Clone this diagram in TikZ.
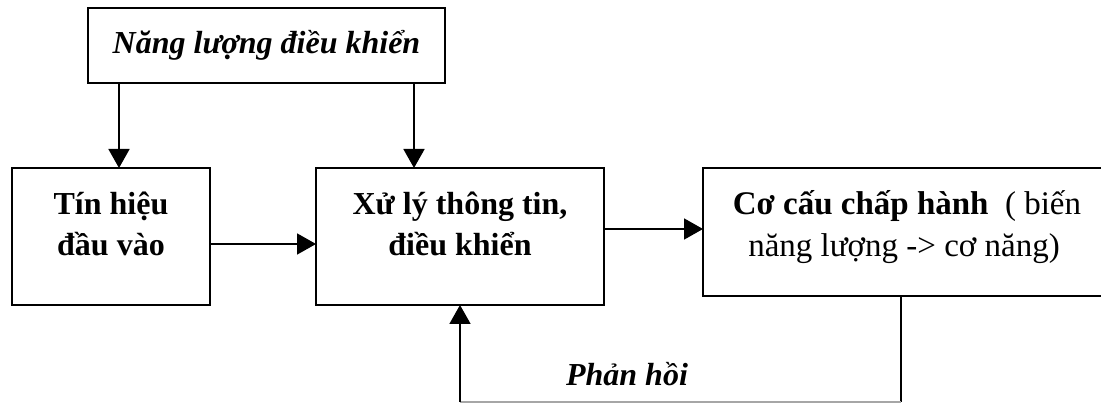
\documentclass[tikz,border=0pt]{standalone}
\usepackage{fontspec}
\setmainfont{Liberation Serif}
\usetikzlibrary{arrows.meta}
\tikzset{
  box/.style={draw, line width=1.8pt, inner sep=0pt, outer sep=0pt, rectangle},
  lbl/.style={anchor=base, inner sep=0pt, font=\fontsize{32}{38}\selectfont},
  lblb/.style={lbl, font=\fontsize{33}{39}\selectfont},
  conn/.style={line width=1.8pt},
  arr/.style={conn, -{Triangle[length=19pt, width=21pt]}}
}
\begin{document}
\begin{tikzpicture}[x=1pt,y=-1pt]
\useasboundingbox (0,0) rectangle (1101,403);
% boxes
\node[box, minimum width=357pt, minimum height=75pt] (energy) at (266.5,45.5) {};
\node[box, minimum width=198pt, minimum height=137pt] (input) at (111,236.5) {};
\node[box, minimum width=288pt, minimum height=137pt] (proc) at (460,236.5) {};
\node[box, minimum width=404pt, minimum height=128pt] (act) at (905,232) {};
% texts
\node[lbl] (tEnergy) at (266.5,54) {\textbf{\textit{Năng lượng điều khiển}}};
\node[lbl] (tIn1) at (111,215) {\textbf{Tín hiệu}};
\node[lbl] (tIn2) at (111,256) {\textbf{đầu vào}};
\node[lbl] (tPr1) at (460,215) {\textbf{Xử lý thông tin,}};
\node[lbl] (tPr2) at (460,256) {\textbf{điều khiển}};
\node[lblb] (tAc1) at (907,215) {\textbf{Cơ cấu chấp hành}\ \ ( biến};
\node[lblb] (tAc2) at (904,257) {năng lượng -> cơ năng)};
\node[lbl] (tFb) at (627,386) {\textbf{\textit{Phản hồi}}};
% connectors
\draw[arr] (energy.south -| 119,0) -- (input.north -| 119,0);
\draw[arr] (energy.south -| 414,0) -- (proc.north -| 414,0);
\draw[arr] (input.east |- 0,244) -- (proc.west |- 0,244);
\draw[arr] (proc.east |- 0,229) -- (act.west |- 0,229);
\coordinate (fbA) at (901,402);
\coordinate (fbB) at (460,402);
\draw[conn] (act.south -| fbA) -- (fbA);
\draw[conn, black!35] (fbA) -- (fbB);
\draw[arr] (fbB) -- (proc.south -| fbB);
\end{tikzpicture}
\end{document}
